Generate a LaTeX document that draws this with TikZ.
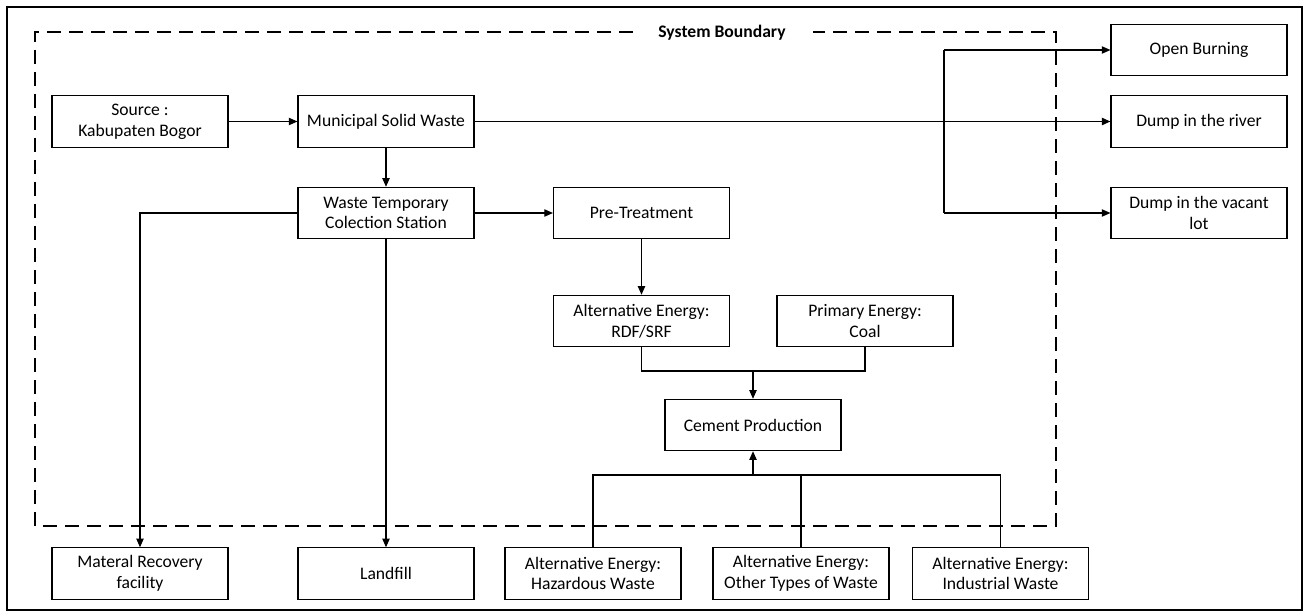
\documentclass[tikz,border=0pt]{standalone}
\usepackage{fontspec}
\setmainfont{Carlito}
\usetikzlibrary{arrows.meta}
\begin{document}
\begin{tikzpicture}[x=0.75pt,y=-0.75pt,
  box/.style={draw,line width=0.85pt,minimum width=132pt,minimum height=38.5pt,inner sep=1pt,align=center,font=\fontsize{13.2}{15.5}\selectfont},
  conn/.style={line width=0.85pt},
  arr/.style={line width=0.85pt,-{Triangle[length=6.5pt,width=5.5pt]}},
  bound/.style={line width=1.2pt,dash pattern=on 10.5pt off 6pt}]
\useasboundingbox (0,0) rectangle (1310,613);
\draw[line width=1.6pt] (7,7) rectangle (1302,610);
% system boundary
\draw[bound] (633,32) -- (35,32) -- (35,526) -- (1056,526) -- (1056,32) -- (813,32);
\node[font=\fontsize{13.2}{15.5}\selectfont\bfseries] (sb) at (722,33) {System Boundary};
% nodes
\node[box] (src) at (140,121.5) {Source :\\Kabupaten Bogor};
\node[box] (msw) at (386,121.5) {Municipal Solid Waste};
\node[box] (wtcs) at (386,213) {Waste Temporary\\Colection Station};
\node[box] (pre) at (641.5,213) {Pre-Treatment};
\node[box] (ob) at (1199,50) {Open Burning};
\node[box] (river) at (1199,121.5) {Dump in the river};
\node[box] (vacant) at (1199,213) {Dump in the vacant\\lot};
\node[box] (rdf) at (641.5,321) {Alternative Energy:\\RDF/SRF};
\node[box] (coal) at (865,321) {Primary Energy:\\Coal};
\node[box] (cement) at (753,425) {Cement Production};
\node[box] (mrf) at (140,573.5) {Materal Recovery\\facility};
\node[box] (landfill) at (386,573.5) {Landfill};
\node[box] (haz) at (593,573.5) {Alternative Energy:\\Hazardous Waste};
\node[box] (other) at (801,573.5) {Alternative Energy:\\Other Types of Waste};
\node[box] (ind) at (1000.5,573.5) {Alternative Energy:\\Industrial Waste};
% connectors
\draw[arr] (src) -- (msw);
\draw[arr] (msw) -- (wtcs);
\draw[arr,line width=1.2pt] (msw.east) -- (river.west);
\coordinate (bt) at (944,50);
\coordinate (bb) at (944,213);
\draw[conn] (bt) -- (bb);
\draw[arr] (bt) -- (ob.west);
\draw[arr] (bb) -- (vacant.west);
\draw[arr] (wtcs.west) -| (mrf.north);
\draw[arr] (wtcs) -- (landfill);
\draw[arr] (wtcs) -- (pre);
\draw[arr] (pre) -- (rdf);
\coordinate (j1) at (753,371);
\draw[conn] (rdf.south) |- (j1) -| (coal.south);
\draw[arr] (j1) -- (cement);
\coordinate (j2) at (753,475);
\draw[conn] (haz.north) |- (j2) -| (ind.north);
\draw[conn] (other.north) -- (other.north |- j2);
\draw[arr] (j2) -- (cement);
\end{tikzpicture}
\end{document}
